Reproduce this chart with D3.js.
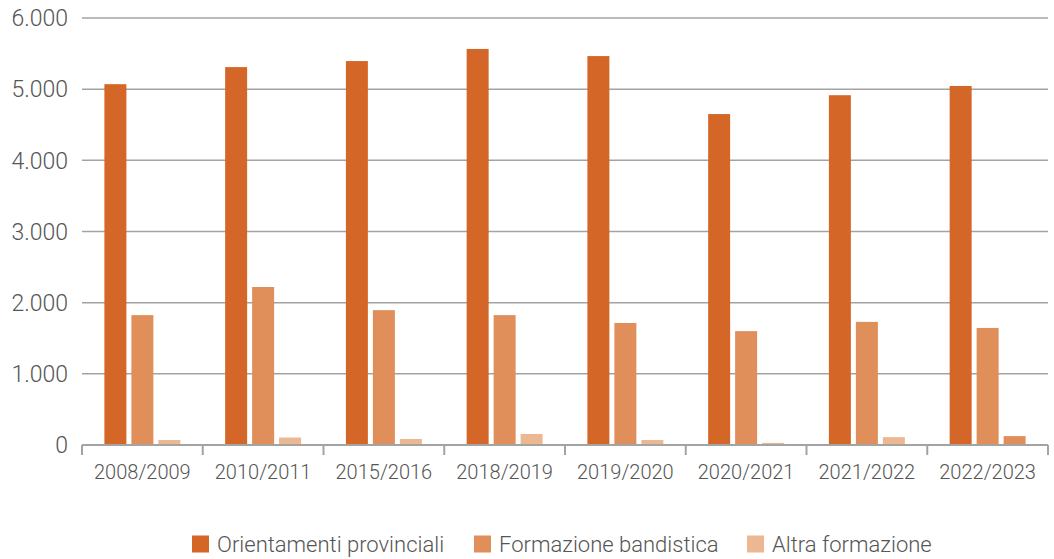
<!DOCTYPE html>
<html>
<head>
<meta charset="utf-8">
<style>
  body { margin: 0; background: #fff; }
  svg text { font-family: "Roboto", "Liberation Sans", sans-serif; font-weight: 300; fill: #555; }
  .grid line { stroke: #a3a3a3; stroke-width: 1.5; }
  .axis--x path, .axis--x line { stroke: #a3a3a3; stroke-width: 2; }
</style>
</head>
<body>
<svg width="1054" height="559"></svg>
<script src="https://d3js.org/d3.v7.min.js"></script>
<script>
  // data
  var years = ["2008/2009", "2010/2011", "2015/2016", "2018/2019", "2019/2020", "2020/2021", "2021/2022", "2022/2023"];
  var series = ["Orientamenti provinciali", "Formazione bandistica", "Altra formazione"];
  var orientamenti = [5070, 5310, 5395, 5565, 5465, 4650, 4915, 5045];
  var bandistica = [1825, 2220, 1895, 1825, 1715, 1600, 1730, 1645];
  var altra = [70, 105, 85, 155, 70, 30, 110, 125];
  var yTicks = [0, 1000, 2000, 3000, 4000, 5000, 6000];
  var colors = ["#d46628", "#e08e5a", "#ebb891"];

  var svg = d3.select("svg");
  var mLeft = 82, mRight = 1048, mTop = 18, mBottom = 445;

  var x = d3.scaleBand().domain(years).range([mLeft, mRight]).padding(0);
  var xs = d3.scaleBand().domain(series).range([0, x.bandwidth()])
      .paddingInner(5 / 27).paddingOuter(0.83);
  var y = d3.scaleLinear().domain([0, 6000]).range([mBottom, mTop]);

  var fmt = function(d) { return d3.format(",")(d).replace(/,/g, "."); };

  // gridlines
  var grid = svg.append("g").attr("class", "grid");
  grid.selectAll("line").data(yTicks.filter(function(d) { return d > 0; }))
    .enter().append("line")
    .attr("x1", mLeft).attr("x2", mRight)
    .attr("y1", function(d) { return y(d); }).attr("y2", function(d) { return y(d); });

  grid.selectAll("text").data(yTicks).enter().append("text")
    .attr("x", 68).attr("y", function(d) { return y(d); })
    .attr("dy", "0.36em").attr("text-anchor", "end")
    .style("font-size", "23px")
    .text(fmt);

  // bars
  var rows = years.map(function(yr, i) {
    return { year: yr, values: [orientamenti[i], bandistica[i], altra[i]] };
  });

  var g = svg.selectAll(".year").data(rows).enter().append("g")
    .attr("class", "year")
    .attr("transform", function(d) { return "translate(" + x(d.year) + ",0)"; });

  g.selectAll("rect").data(function(d, i) {
      return d.values.map(function(v, k) { return { s: series[k], k: k, v: v, last: i === years.length - 1 }; });
    })
    .enter().append("rect")
    .attr("x", function(d) { return xs(d.s); })
    .attr("width", xs.bandwidth())
    .attr("y", function(d) { return y(d.v); })
    .attr("height", function(d) { return y(0) - y(d.v); })
    .attr("fill", function(d) { return (d.last && d.k === 2) ? colors[1] : colors[d.k]; });

  // x axis
  var gx = svg.append("g").attr("class", "axis--x")
    .attr("transform", "translate(0," + mBottom + ")");
  gx.append("line").attr("x1", mLeft).attr("x2", mRight).attr("y1", 0).attr("y2", 0);
  gx.selectAll(".tick").data(d3.range(years.length + 1)).enter().append("line")
    .attr("x1", function(i) { return mLeft + i * x.step(); })
    .attr("x2", function(i) { return mLeft + i * x.step(); })
    .attr("y1", 0).attr("y2", 10);
  gx.selectAll("text").data(years).enter().append("text")
    .attr("x", function(d) { return x(d) + x.bandwidth() / 2; })
    .attr("y", 27).attr("dy", "0.36em")
    .attr("text-anchor", "middle")
    .style("font-size", "20px")
    .text(function(d) { return d; });

  // legend
  var legX = [192, 474, 747];
  var leg = svg.selectAll(".leg").data(series).enter().append("g")
    .attr("class", "leg")
    .attr("transform", function(d, i) { return "translate(" + legX[i] + ",544)"; });
  leg.append("rect").attr("x", 0).attr("y", -8.5).attr("width", 17).attr("height", 17)
    .attr("fill", function(d, i) { return colors[i]; });
  leg.append("text").attr("x", 25).attr("dy", "0.36em")
    .style("font-size", "22px")
    .text(function(d) { return d; });
</script>
</body>
</html>
